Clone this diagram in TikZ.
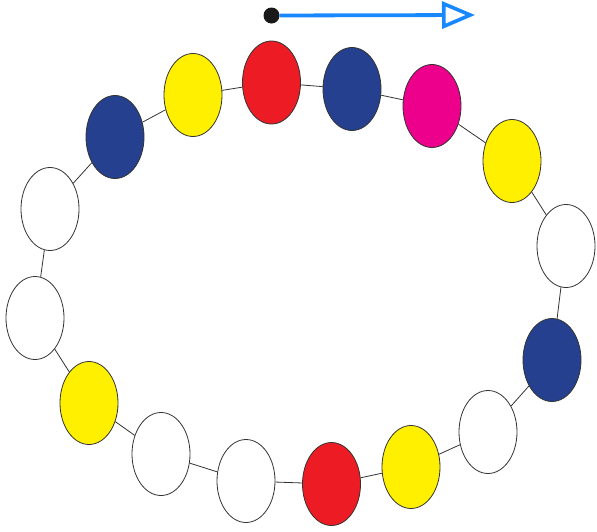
\documentclass[tikz,border=0pt]{standalone}
\usepackage{xcolor}
\usepackage{tikz}
\usetikzlibrary{arrows.meta,shapes.geometric}

\definecolor{bead red}{RGB}{237,28,36}
\definecolor{bead blue}{RGB}{36,64,142}
\definecolor{bead pink}{RGB}{236,0,140}
\definecolor{bead yellow}{RGB}{255,240,0}
\definecolor{arrow blue}{RGB}{24,136,255}

\begin{document}
\begin{tikzpicture}[
    x=1pt,y=-1pt,
    bead/.style={ellipse,draw=black!80,line width=0.8pt,inner sep=0pt,minimum width=58pt,minimum height=83pt},
    red/.style={bead,fill=bead red},
    blue/.style={bead,fill=bead blue},
    pink/.style={bead,fill=bead pink},
    yellow/.style={bead,fill=bead yellow},
    white/.style={bead,fill=white},
    link/.style={draw=black!80,line width=0.8pt},
    dot/.style={circle,fill=black!90,inner sep=0pt,minimum size=16pt},
    arr/.style={-{Triangle[open,length=33pt,width=27pt,line width=3.6pt]},line width=3.8pt,draw=arrow blue}
]
\useasboundingbox (0,0) rectangle (597,531);
% direction marker
\node[dot] (start) at (271.5,15.5) {};
\coordinate (dir) at (475,15);
\draw[arr] (start)--(dir);
% beads round the ring
\node[red] (top) at (271.5,82.5) {};
\node[blue] (b2) at (352,89) {};
\node[pink] (b3) at (432,106) {};
\node[yellow] (b4) at (512,161) {};
\node[white] (b5) at (566,246) {};
\node[blue] (b6) at (552,360) {};
\node[white] (b7) at (488,432) {};
\node[yellow] (b8) at (411,467) {};
\node[red] (bottom) at (331.5,484) {};
\node[white] (b10) at (246,481) {};
\node[white] (b11) at (161,454) {};
\node[yellow] (b12) at (89,403) {};
\node[white] (b13) at (35,318) {};
\node[white] (b14) at (50,209) {};
\node[blue] (b15) at (115,137) {};
\node[yellow] (b16) at (193,95) {};
\draw[link] (top)--(b2);
\draw[link] (b2)--(b3);
\draw[link] (b3)--(b4);
\draw[link] (b4)--(b5);
\draw[link] (b5)--(b6);
\draw[link] (b6)--(b7);
\draw[link] (b7)--(b8);
\draw[link] (b8)--(bottom);
\draw[link] (bottom)--(b10);
\draw[link] (b10)--(b11);
\draw[link] (b11)--(b12);
\draw[link] (b12)--(b13);
\draw[link] (b13)--(b14);
\draw[link] (b14)--(b15);
\draw[link] (b15)--(b16);
\draw[link] (b16)--(top);
\end{tikzpicture}
\end{document}
